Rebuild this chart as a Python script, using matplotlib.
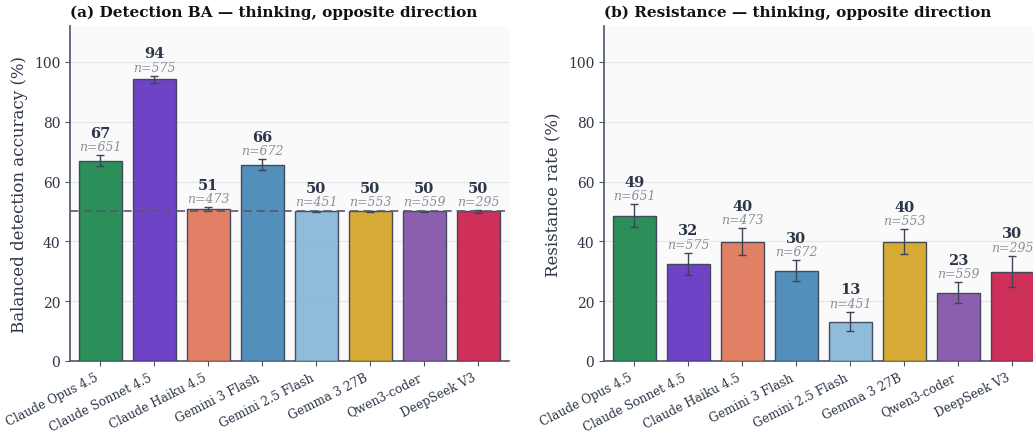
import matplotlib
matplotlib.use("Agg")
import matplotlib.pyplot as plt
import numpy as np

models = ["Claude Opus 4.5", "Claude Sonnet 4.5", "Claude Haiku 4.5", "Gemini 3 Flash",
          "Gemini 2.5 Flash", "Gemma 3 27B", "Qwen3-coder", "DeepSeek V3"]
colors = ["#21884f", "#6739c2", "#e17a5e", "#4a89b8", "#8ab8da", "#d6a62a", "#8557a9", "#cc2551"]

# panel (a)
det_ba = [67.0, 94.2, 50.8, 65.6, 50.0, 50.0, 50.0, 50.0]
det_lo = [65.2, 93.0, 50.1, 63.7, 49.7, 49.7, 49.7, 49.6]
det_hi = [68.9, 95.4, 51.5, 67.5, 50.3, 50.3, 50.3, 50.4]
det_n = [651, 575, 473, 672, 451, 553, 559, 295]

# panel (b)
res_rate = [48.6, 32.3, 39.9, 30.0, 13.0, 39.9, 22.9, 29.8]
res_lo = [44.7, 28.6, 35.5, 26.7, 10.1, 35.8, 19.5, 24.7]
res_hi = [52.4, 36.2, 44.4, 33.7, 16.5, 44.0, 26.4, 35.2]
res_n = [651, 575, 473, 672, 451, 553, 559, 295]

plt.rcParams["font.family"] = ["DejaVu Serif"]
TXT = "#2d3748"
SPINE = "#4a5568"

fig = plt.figure(figsize=(10.33, 4.39), dpi=100)
W, H = 1033, 439
ax1 = fig.add_axes([70 / W, 1 - 362 / H, 439 / W, 335 / H])
ax2 = fig.add_axes([604 / W, 1 - 362 / H, 439 / W, 335 / H])


def panel(ax, vals, lo, hi, ns, title, ylabel, chance=False):
    x = np.arange(len(models))
    ax.set_facecolor("#fafafa")
    ax.bar(x, vals, width=0.8, color=colors, edgecolor="#3b4556", linewidth=1.0,
           alpha=0.95, zorder=3)
    yerr = np.array([np.array(vals) - np.array(lo), np.array(hi) - np.array(vals)])
    ax.errorbar(x, vals, yerr=yerr, fmt="none", ecolor="#3b4556", elinewidth=1.0,
                capsize=3, capthick=1.0, zorder=4)
    for xi, v, h, n in zip(x, vals, hi, ns):
        ax.annotate(f"n={n}", (xi, h), xytext=(0, 1.5), textcoords="offset points",
                    ha="center", va="bottom", fontsize=9, style="italic", color="#8a8f98")
        ax.annotate(f"{v:.0f}", (xi, h), xytext=(0, 11), textcoords="offset points",
                    ha="center", va="bottom", fontsize=10.5, fontweight="bold", color=TXT)
    if chance:
        ax.axhline(50, color="#55596a", linestyle=(0, (5, 3)), linewidth=1.2, zorder=5)
    ax.set_xlim(-0.56, 7.57)
    ax.set_ylim(0, 112)
    ax.set_yticks([0, 20, 40, 60, 80, 100])
    ax.grid(axis="y", color="#e3e6ec", linewidth=0.8, zorder=0)
    ax.set_axisbelow(True)
    for s in ["top", "right"]:
        ax.spines[s].set_visible(False)
    for s in ["left", "bottom"]:
        ax.spines[s].set_color(SPINE)
        ax.spines[s].set_linewidth(1.2)
    ax.set_xticks(x)
    ax.set_xticklabels(models, rotation=27, ha="right", fontsize=8.7, color=TXT)
    ax.tick_params(axis="y", labelsize=10, colors=TXT)
    ax.tick_params(axis="both", color=SPINE)
    ax.set_ylabel(ylabel, fontsize=12, color=TXT)
    ax.set_title(title, fontsize=11, fontweight="bold", loc="left", color="#111111", pad=7)


panel(ax1, det_ba, det_lo, det_hi, det_n, "(a) Detection BA \u2014 thinking, opposite direction",
      "Balanced detection accuracy (%)", chance=True)
panel(ax2, res_rate, res_lo, res_hi, res_n, "(b) Resistance \u2014 thinking, opposite direction",
      "Resistance rate (%)")

fig.savefig("out.png", dpi=100)
